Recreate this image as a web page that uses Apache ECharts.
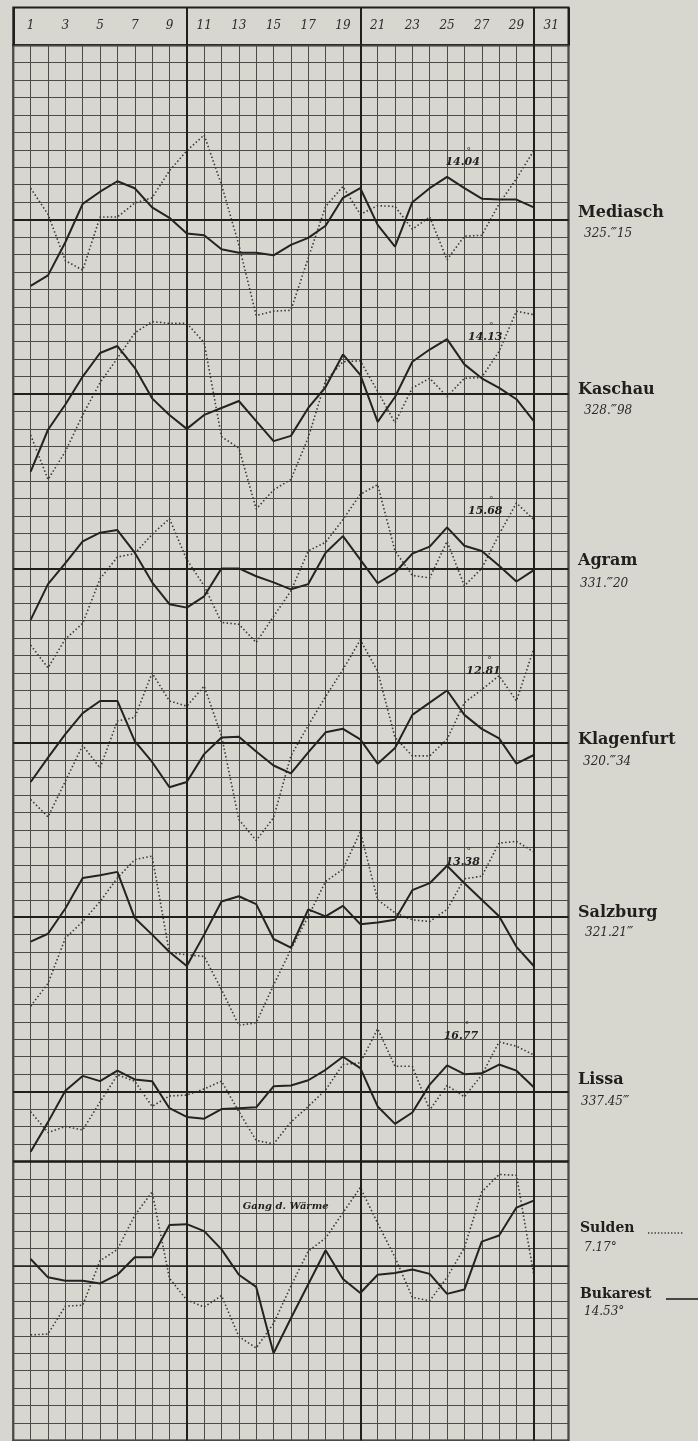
<!DOCTYPE html>
<html><head><meta charset="utf-8">
<script src="https://cdn.jsdelivr.net/npm/echarts@6/dist/echarts.min.js"></script>
<style>html,body{margin:0;padding:0;background:#d8d7cf}#c{width:698px;height:1441px}</style>
</head><body><div id="c"></div>
<script>
// ---------------- DATA ----------------
const dayLabels = ['1','3','5','7','9','11','13','15','17','19','21','23','25','27','29','31'];
const days = [1,2,3,4,5,6,7,8,9,10,11,12,13,14,15,16,17,18,19,20,21,22,23,24,25,26,27,28,29,30];
const stationNames = ['Mediasch','Kaschau','Agram','Klagenfurt','Salzburg','Lissa'];
const stationPressureMeans = ['325.‴15','328.‴98','331.‴20','320.‴34','321.21‴','337.45‴'];
const stationTempMeans = ['14.04','14.13','15.68','12.81','13.38','16.77'];
// deviations from each station's mean line (solid = pressure, dotted = temperature)
const mediaschPressure = [-3.8,-3.2,-1.3,0.9,1.6,2.2,1.8,0.7,0.1,-0.8,-0.9,-1.7,-1.9,-1.9,-2.05,-1.45,-1.05,-0.35,1.25,1.8,-0.3,-1.55,1.0,1.8,2.45,1.8,1.2,1.15,1.15,0.7];
const mediaschTemp     = [1.8,0.3,-2.35,-2.9,0.15,0.15,0.95,1.25,2.8,3.95,4.85,2.0,-1.45,-5.5,-5.25,-5.2,-2.2,0.75,1.9,0.3,0.8,0.75,-0.55,0.15,-2.3,-0.95,-0.9,0.9,2.35,3.95];
const kaschauPressure  = [-4.45,-2.05,-0.6,1.0,2.35,2.75,1.5,-0.25,-1.2,-2.0,-1.2,-0.8,-0.4,-1.55,-2.7,-2.4,-0.8,0.4,2.27,1.1,-1.6,-0.17,1.85,2.55,3.15,1.7,0.9,0.35,-0.3,-1.55];
const kaschauTemp      = [-2.35,-4.9,-3.3,-1.2,0.65,2.05,3.5,4.15,4.05,4.05,2.95,-2.45,-3.1,-6.6,-5.5,-4.9,-2.5,0.75,1.85,1.9,0.15,-1.65,0.35,0.9,-0.15,0.9,0.95,2.45,4.75,4.55];
const agramPressure    = [-2.95,-0.9,0.3,1.55,2.05,2.2,0.9,-0.8,-2.05,-2.25,-1.6,0,0,-0.45,-0.8,-1.2,-0.9,0.9,1.85,0.5,-0.85,-0.25,0.85,1.25,2.35,1.3,1.0,0.15,-0.75,-0.1];
const agramTemp        = [-4.4,-5.7,-4.05,-3.15,-0.6,0.65,0.85,1.95,2.85,0.5,-1.0,-3.1,-3.2,-4.25,-2.75,-1.3,1.0,1.5,2.8,4.25,4.8,1.0,-0.4,-0.55,1.55,-1.0,0,1.95,3.75,2.8];
const klagenfurtPressure = [-2.25,-0.85,0.5,1.7,2.4,2.4,0.1,-1.1,-2.55,-2.25,-0.65,0.3,0.35,-0.5,-1.3,-1.75,-0.55,0.6,0.8,0.2,-1.2,-0.3,1.6,2.3,3.0,1.6,0.8,0.25,-1.2,-0.7];
const klagenfurtTemp   = [-3.25,-4.25,-2.2,-0.15,-1.45,1.25,1.45,4.0,2.4,2.1,3.25,0.4,-4.4,-5.6,-4.3,-0.75,1.0,2.65,4.2,5.9,4.1,0.3,-0.75,-0.75,0.2,2.3,3.05,3.85,2.4,5.4];
const salzburgPressure = [-1.4,-0.95,0.5,2.25,2.4,2.6,-0.05,-1.0,-2.0,-2.8,-1.0,0.9,1.2,0.75,-1.25,-1.75,0.45,0.05,0.65,-0.4,-0.3,-0.15,1.55,1.95,2.95,1.95,1.0,0.05,-1.7,-2.8];
const salzburgTemp     = [-5.1,-3.8,-1.2,-0.25,0.9,2.25,3.3,3.5,-2.05,-2.15,-2.25,-4.15,-6.2,-6.05,-3.9,-1.85,0.05,2.05,2.75,4.9,1.0,0.25,-0.15,-0.25,0.45,2.2,2.35,4.25,4.35,3.75];
const lissaPressure    = [-3.45,-1.75,0.05,0.9,0.6,1.2,0.7,0.6,-0.95,-1.45,-1.55,-1.0,-0.95,-0.9,0.3,0.35,0.65,1.25,2.0,1.35,-0.85,-1.85,-1.2,0.4,1.5,1.0,1.05,1.55,1.2,0.25];
const lissaTemp        = [-1.15,-2.35,-2.0,-2.2,-0.6,0.95,0.6,-0.85,-0.25,-0.2,0.15,0.6,-1.15,-2.8,-3.0,-1.75,-0.85,0.1,1.55,1.65,3.6,1.45,1.45,-1.05,0.35,-0.3,0.95,2.85,2.6,2.1];
const warmthTitle = 'Gang d. Wärme';
const warmthNames = ['Sulden','Bukarest'];
const warmthMeans = ['7.17°','14.53°'];
const suldenTemp   = [-3.95,-3.9,-2.3,-2.25,0.3,0.95,2.9,4.25,-0.7,-1.95,-2.35,-1.7,-4.05,-4.7,-3.3,-1.15,0.85,1.6,3.05,4.5,2.45,0.5,-1.8,-2.0,-0.65,1.05,4.25,5.25,5.2,-0.5];
const bukarestTemp = [0.4,-0.65,-0.85,-0.85,-1.0,-0.5,0.5,0.5,2.35,2.4,2.0,0.95,-0.5,-1.2,-5.0,-3.0,-1.05,0.9,-0.75,-1.55,-0.5,-0.4,-0.2,-0.45,-1.6,-1.35,1.4,1.75,3.35,3.75];

// ---------------- LAYOUT ----------------
const pressureSets = [mediaschPressure,kaschauPressure,agramPressure,klagenfurtPressure,salzburgPressure,lissaPressure];
const tempSets = [mediaschTemp,kaschauTemp,agramTemp,klagenfurtTemp,salzburgTemp,lissaTemp];
const panelBase = [70,60,50,40,30,20];
const warmBase = 10;
const tempLabelAt = [[25.9,3.5],[27.2,3.5],[27.2,3.5],[27.1,4.35],[25.9,3.4],[25.8,3.4]];
const nameY = [213,390,561,740,913,1080];
const valY  = [234,411,584,762,933,1102];
const valX  = [584,584,580,583,585,581];

const INK = '#1f1f1d', GRIDC = '#4c4b47', PAPER = '#d8d7cf';
const SERIF = '"DejaVu Serif", "Liberation Serif", serif';
const pts = (vals, base) => vals.map((v,i) => [days[i], base + v]);
const solidStyle = {color: '#232321', width: 2};
const dotStyle = {color: '#3a3a38', width: 1.6, type: [1.5, 2.3]};
const tempLabelRich = {
  d: {fontSize: 9, color: '#333', fontFamily: SERIF, padding: [0,0,0,12], lineHeight: 8},
  t: {fontSize: 11, color: '#222', fontStyle: 'italic', fontWeight: 'bold', fontFamily: SERIF, lineHeight: 13}
};

const series = [];
series.push({
  type: 'line', data: [], xAxisIndex: 0, yAxisIndex: 0, z: 2, silent: true,
  markLine: {
    silent: true, symbol: ['none','none'], animation: false, label: {show: false},
    lineStyle: {color: INK, width: 2, type: 'solid'},
    data: [{xAxis: 10},{xAxis: 20},{xAxis: 30}]
      .concat(panelBase.map(b => ({yAxis: b})))
      .concat([{yAxis: 16, lineStyle: {width: 2.6, color: '#1a1a18'}}, {yAxis: warmBase, lineStyle: {width: 1.6, color: INK}}])
  }
});
panelBase.forEach((b, k) => {
  series.push({type: 'line', name: stationNames[k] + ' p', data: pts(pressureSets[k], b), showSymbol: false, symbol: 'none', lineStyle: solidStyle, z: 5, animation: false});
  series.push({type: 'line', name: stationNames[k] + ' t', data: pts(tempSets[k], b), showSymbol: false, symbol: 'none', lineStyle: dotStyle, z: 4, animation: false,
    markPoint: {symbol: 'circle', symbolSize: 0, animation: false, silent: true,
      label: {show: true, position: 'inside', formatter: '{d|°}\n{t|' + stationTempMeans[k] + '}', rich: tempLabelRich},
      data: [{coord: [tempLabelAt[k][0], b + tempLabelAt[k][1]]}]}
  });
});
series.push({type: 'line', name: warmthNames[0], data: pts(suldenTemp, warmBase), showSymbol: false, symbol: 'none', lineStyle: dotStyle, z: 4, animation: false,
  markPoint: {symbol: 'circle', symbolSize: 0, animation: false, silent: true,
    label: {show: true, position: 'inside', formatter: warmthTitle, fontSize: 10, fontStyle: 'italic', fontWeight: 'bold', fontFamily: SERIF, color: '#222'},
    data: [{coord: [15.7, warmBase + 3.4]}]}
});
series.push({type: 'line', name: warmthNames[1], data: pts(bukarestTemp, warmBase), showSymbol: false, symbol: 'none', lineStyle: solidStyle, z: 5, animation: false});

const graphics = [];
stationNames.forEach((n, k) => {
  graphics.push({type: 'text', x: 578, y: nameY[k], style: {text: n, font: 'bold 16px ' + SERIF, fill: '#1f1f1d', textVerticalAlign: 'middle'}});
  graphics.push({type: 'text', x: valX[k], y: valY[k], style: {text: stationPressureMeans[k], font: 'italic 12px ' + SERIF, fill: '#2a2a28', textVerticalAlign: 'middle'}});
});
const wY = [1228, 1294], wvY = [1248, 1312];
warmthNames.forEach((n, k) => {
  graphics.push({type: 'text', x: 580, y: wY[k], style: {text: n, font: 'bold 14px ' + SERIF, fill: '#1f1f1d', textVerticalAlign: 'middle'}});
  graphics.push({type: 'text', x: 584, y: wvY[k], style: {text: warmthMeans[k], font: 'italic 12px ' + SERIF, fill: '#2a2a28', textVerticalAlign: 'middle'}});
});
graphics.push({type: 'line', shape: {x1: 648, y1: 1233, x2: 684, y2: 1233}, style: {stroke: '#333', lineWidth: 1.4, lineDash: [1.3, 2]}});
graphics.push({type: 'line', shape: {x1: 666, y1: 1299, x2: 698, y2: 1299}, style: {stroke: '#222', lineWidth: 1.6}});

const chart = echarts.init(document.getElementById('c'), null, {renderer: 'canvas'});
chart.setOption({
  backgroundColor: PAPER,
  animation: false,
  grid: [
    {left: 13.3, top: 45.2, width: 555.2, height: 1395.2, show: true, borderColor: INK, borderWidth: 2, backgroundColor: 'transparent'},
    {left: 13.3, top: 7.5, width: 555.2, height: 37.7, show: true, borderColor: INK, borderWidth: 2, backgroundColor: 'transparent'}
  ],
  xAxis: [
    {gridIndex: 0, type: 'value', min: 0, max: 32, interval: 1, position: 'top',
     axisLine: {show: false}, axisTick: {show: false},
     axisLabel: {margin: 13, fontSize: 12, fontStyle: 'italic', fontFamily: SERIF, color: '#2b2b29',
       formatter: v => dayLabels.indexOf(String(v)) >= 0 ? String(v) : ''},
     splitLine: {show: true, lineStyle: {color: GRIDC, width: 1}}},
    {gridIndex: 1, type: 'value', min: 0, max: 32, interval: 10, axisLine: {show: false}, axisTick: {show: false}, axisLabel: {show: false},
     splitLine: {show: true, lineStyle: {color: INK, width: 2}}}
  ],
  yAxis: [
    {gridIndex: 0, type: 'value', min: 0, max: 80, interval: 1, axisLine: {show: false}, axisTick: {show: false}, axisLabel: {show: false},
     splitLine: {show: true, lineStyle: {color: GRIDC, width: 1}}},
    {gridIndex: 1, type: 'value', min: 0, max: 1, axisLine: {show: false}, axisTick: {show: false}, axisLabel: {show: false}, splitLine: {show: false}}
  ],
  series: series,
  graphic: graphics
});
</script></body></html>
